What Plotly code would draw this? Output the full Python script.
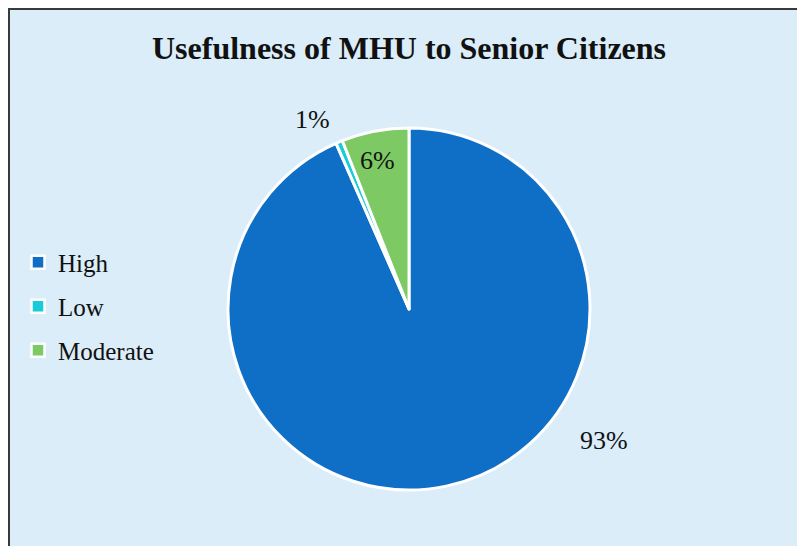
import plotly.graph_objects as go

categories = ["High", "Low", "Moderate"]
values = [93.4, 0.6, 6.0]
colors = ["#0F6EC6", "#17CBD9", "#7DC964"]
title_text = "Usefulness of MHU to Senior Citizens"

W, H = 805, 546
OFF = 8  # page body margin offset
total = sum(values)
pct = [f"{round(v / total * 100)}%" for v in values]
SERIF = "Liberation Serif, Times New Roman, serif"


def fx(px):
    return (px - OFF) / W


def fy(py):
    return 1 - (py - OFF) / H


fig = go.Figure()

# chart area background with border
fig.add_shape(type="rect", xref="paper", yref="paper",
              x0=1 / W, x1=1.05, y0=-0.05, y1=1 - 1 / H,
              fillcolor="#DAEDF8", line=dict(color="#3a3a3a", width=2), layer="below")

fig.add_trace(go.Pie(
    labels=categories, values=values, sort=False, direction="clockwise",
    rotation=0, marker=dict(colors=colors, line=dict(color="white", width=3)),
    textinfo="none", showlegend=False, hoverinfo="label+percent",
    domain=dict(x=[fx(409 - 181), fx(409 + 181)], y=[fy(490), fy(128)]),
))

for c, col in zip(categories, colors):
    fig.add_trace(go.Scatter(
        x=[None], y=[None], mode="markers", name=c, legendgroup=c,
        marker=dict(symbol="square", size=13, color=col, line=dict(color="white", width=2.5)),
    ))

# percentage labels
label_pos = {"High": (604, 440), "Low": (312, 120), "Moderate": (377, 160)}
for c, p in zip(categories, pct):
    px, py = label_pos[c]
    fig.add_annotation(x=fx(px), y=fy(py), xref="paper", yref="paper",
                       xanchor="center", yanchor="middle",
                       text=p, showarrow=False,
                       font=dict(family=SERIF, size=26, color="#111111"))

fig.add_annotation(x=fx(408.5), y=fy(48), xref="paper", yref="paper",
                   xanchor="center", yanchor="middle",
                   text=f"<b>{title_text}</b>", showarrow=False,
                   font=dict(family=SERIF, size=32, color="#111111"))

fig.update_layout(
    width=W, height=H, margin=dict(l=0, r=0, t=0, b=0),
    paper_bgcolor="white", plot_bgcolor="rgba(0,0,0,0)",
    xaxis=dict(visible=False), yaxis=dict(visible=False),
    legend=dict(x=fx(18), y=fy(239.5), xanchor="left", yanchor="top",
                bgcolor="rgba(0,0,0,0)", tracegroupgap=8.5,
                font=dict(family=SERIF, size=25, color="#111111")),
)

fig.write_html("out.html")
